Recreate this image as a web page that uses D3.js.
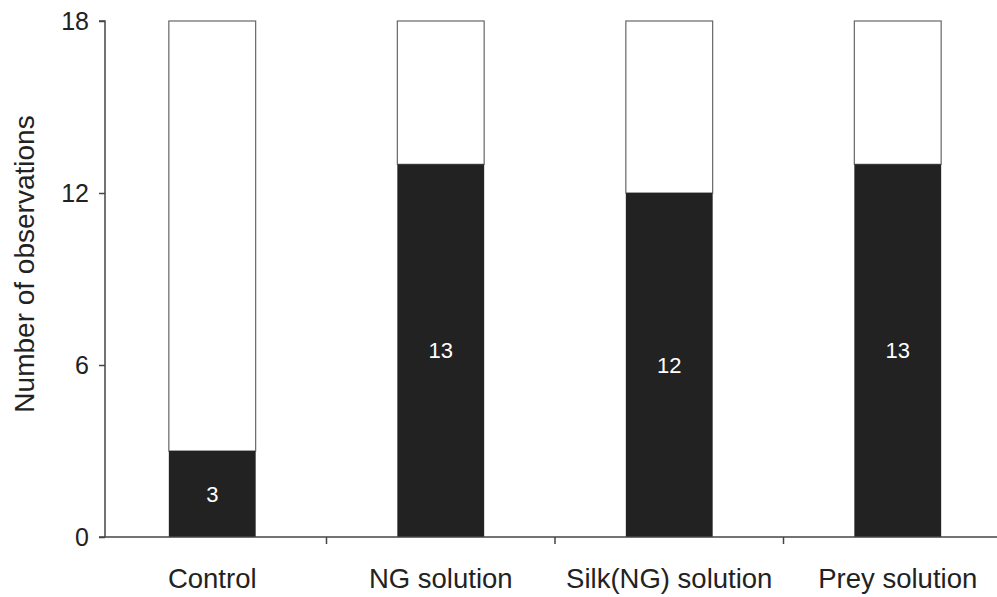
<!DOCTYPE html>
<html>
<head>
<meta charset="utf-8">
<script src="https://cdn.jsdelivr.net/npm/d3@7"></script>
<style>
    body { margin: 0; background: #fff; }
    svg text { font-family: "Liberation Sans", Arial, sans-serif; fill: #222; }
</style>
</head>
<body>
<svg id="chart" width="997" height="597"></svg>
<script>
    'use strict';

    var categories = ['Control', 'NG solution', 'Silk(NG) solution', 'Prey solution'];
    var responded = [3, 13, 12, 13];
    var notResponded = [15, 5, 6, 5];
    var yTicks = [0, 6, 12, 18];

    var svg = d3.select('#chart');

    var x = d3.scaleBand()
        .domain(categories)
        .range([98, 1012])
        .paddingInner(0.62)
        .paddingOuter(0.31);

    // band edges for the x axis ticks (between categories)
    var step = x.step();
    var edges = categories.slice(1).map(function (c) {
        return x(c) - (step - x.bandwidth()) / 2;
    });

    var y = d3.scaleLinear().domain([0, 18]).range([537, 21]);

    var ink = '#444';

    // stacked bars
    var groups = svg.selectAll('.bar')
        .data(categories)
        .enter().append('g')
        .attr('class', 'bar');

    groups.append('rect')
        .attr('x', function (d) { return x(d); })
        .attr('width', x.bandwidth())
        .attr('y', function (d, i) { return y(responded[i] + notResponded[i]); })
        .attr('height', function (d, i) { return y(responded[i]) - y(responded[i] + notResponded[i]); })
        .attr('fill', '#fff')
        .attr('stroke', '#666')
        .attr('stroke-width', 1.2);

    groups.append('rect')
        .attr('x', function (d) { return x(d); })
        .attr('width', x.bandwidth())
        .attr('y', function (d, i) { return y(responded[i]); })
        .attr('height', function (d, i) { return y(0) - y(responded[i]); })
        .attr('fill', '#222');

    groups.append('text')
        .attr('x', function (d) { return x(d) + x.bandwidth() / 2; })
        .attr('y', function (d, i) { return (y(responded[i]) + y(0)) / 2; })
        .attr('dy', '.35em')
        .attr('text-anchor', 'middle')
        .style('fill', '#fff')
        .style('font-size', '22px')
        .text(function (d, i) { return responded[i]; });

    // y axis
    var yAxis = svg.append('g')
        .attr('transform', 'translate(105,0)')
        .call(d3.axisLeft(y).tickValues(yTicks).tickSize(6).tickPadding(10));
    yAxis.select('.domain').attr('stroke', ink).attr('stroke-width', 1.5)
        .attr('d', 'M-6,' + y(18) + 'H0V' + y(0));
    yAxis.selectAll('.tick line').attr('stroke', ink).attr('stroke-width', 1.5);
    yAxis.selectAll('.tick text').style('font-size', '25px').style('fill', '#222');

    // x axis
    var xAxis = svg.append('g').attr('transform', 'translate(0,' + y(0) + ')');
    xAxis.append('line')
        .attr('x1', 99).attr('x2', 997)
        .attr('stroke', ink).attr('stroke-width', 1.5);
    xAxis.selectAll('.edge')
        .data(edges)
        .enter().append('line')
        .attr('class', 'edge')
        .attr('x1', function (d) { return d; })
        .attr('x2', function (d) { return d; })
        .attr('y1', 0).attr('y2', 7)
        .attr('stroke', ink).attr('stroke-width', 1.5);
    xAxis.selectAll('.label')
        .data(categories)
        .enter().append('text')
        .attr('class', 'label')
        .attr('x', function (d) { return x(d) + x.bandwidth() / 2; })
        .attr('y', 51)
        .attr('text-anchor', 'middle')
        .style('font-size', '27.5px')
        .text(function (d) { return d; });

    svg.append('text')
        .attr('transform', 'translate(34,264) rotate(-90)')
        .attr('text-anchor', 'middle')
        .style('font-size', '28px')
        .text('Number of observations');
</script>
</body>
</html>
